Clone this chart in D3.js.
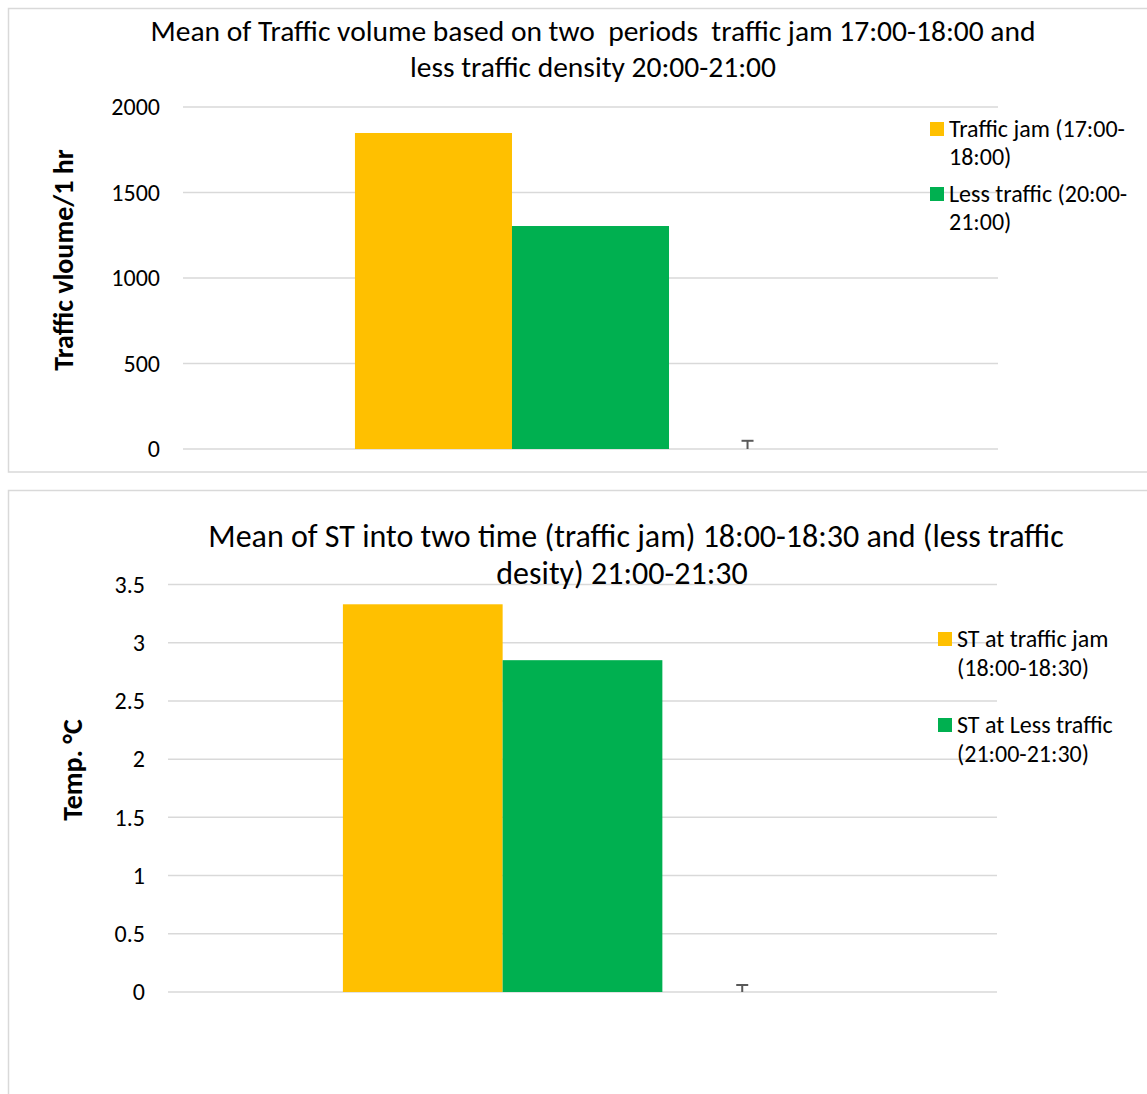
<!DOCTYPE html>
<html>
<head>
<meta charset="utf-8">
<script src="https://cdn.jsdelivr.net/npm/d3@7"></script>
<style>
  html, body { margin: 0; padding: 0; background: #fff; }
  svg { display: block; }
  text { font-family: Carlito, Lato, "Open Sans", sans-serif; fill: #000; }
</style>
</head>
<body>
<svg id="chart" width="1147" height="1094"></svg>
<script>
// ---- Data ----
const categories = ["Mean"];

// Chart 1: traffic volume
const trafficSeries = ["Traffic jam (17:00-18:00)", "Less traffic (20:00-21:00)", "Error"];
const trafficValues = [1848, 1304, 0];
const trafficErrors = [0, 0, 48];
const trafficTicks = [0, 500, 1000, 1500, 2000];
const trafficLegend = [["Traffic jam (17:00-", "18:00)"], ["Less traffic (20:00-", "21:00)"]];
const trafficTitle = ["Mean of Traffic volume based on two  periods  traffic jam 17:00-18:00 and", "less traffic density 20:00-21:00"];
const trafficYTitle = "Traffic vloume/1 hr";

// Chart 2: surface temperature
const stSeries = ["ST at traffic jam (18:00-18:30)", "ST at Less traffic (21:00-21:30)", "Error"];
const stValues = [3.33, 2.85, 0];
const stErrors = [0, 0, 0.06];
const stTicks = [0, 0.5, 1, 1.5, 2, 2.5, 3, 3.5];
const stLegend = [["ST at traffic jam", "(18:00-18:30)"], ["ST at Less traffic", "(21:00-21:30)"]];
const stTitle = ["Mean of ST into two time (traffic jam) 18:00-18:30 and (less traffic", "desity) 21:00-21:30"];
const stYTitle = "Temp. °C";

const seriesColors = ["#FFC000", "#00B050", "none"];

const svg = d3.select("#chart");

function drawChart(cfg) {
  const g = svg.append("g");
  // outer frame
  g.append("rect")
    .attr("x", cfg.frame[0]).attr("y", cfg.frame[1])
    .attr("width", cfg.frame[2]).attr("height", cfg.frame[3])
    .attr("fill", "none").attr("stroke", "#d9d9d9").attr("stroke-width", 1.5);

  const x0 = d3.scaleBand().domain(categories).range([cfg.plot.left, cfg.plot.right]);
  const gapRatio = 2.19;
  const bw = x0.bandwidth();
  const barW = bw / (cfg.series.length + gapRatio);
  const x1 = d3.scaleBand().domain(cfg.series)
    .range([0, barW * cfg.series.length]);
  const offset = (bw - barW * cfg.series.length) / 2;

  const y = d3.scaleLinear().domain([0, cfg.max]).range([cfg.plot.bottom, cfg.plot.top]);

  // gridlines
  g.append("g").selectAll("line").data(cfg.ticks).join("line")
    .attr("x1", cfg.plot.left).attr("x2", cfg.plot.right)
    .attr("y1", d => y(d)).attr("y2", d => y(d))
    .attr("stroke", "#d9d9d9").attr("stroke-width", 1.5);

  // y axis labels
  const yAxis = d3.axisLeft(y).tickValues(cfg.ticks).tickSize(0).tickPadding(0)
    .tickFormat(d => String(d));
  const ax = g.append("g").attr("transform", `translate(${cfg.plot.left - 23},0)`).call(yAxis);
  ax.select(".domain").remove();
  ax.selectAll("text").attr("font-size", 24).attr("fill", "#000")
    .style("font-family", "Carlito, Lato, 'Open Sans', sans-serif");

  // bars
  const rows = cfg.series.map((s, i) => ({ s, v: cfg.values[i], e: cfg.errors[i], c: seriesColors[i] }));
  categories.forEach(cat => {
    const cg = g.append("g").attr("transform", `translate(${x0(cat) + offset},0)`);
    cg.selectAll("rect").data(rows.filter(r => r.c !== "none")).join("rect")
      .attr("x", d => x1(d.s)).attr("width", x1.bandwidth())
      .attr("y", d => y(d.v)).attr("height", d => y(0) - y(d.v))
      .attr("fill", d => d.c);
    // error bars
    const eb = cg.selectAll("g.err").data(rows.filter(r => r.e > 0)).join("g").attr("class", "err");
    eb.append("line")
      .attr("x1", d => x1(d.s) + x1.bandwidth() / 2).attr("x2", d => x1(d.s) + x1.bandwidth() / 2)
      .attr("y1", d => y(d.v)).attr("y2", d => y(d.v + d.e))
      .attr("stroke", "#595959").attr("stroke-width", 2);
    eb.append("line")
      .attr("x1", d => x1(d.s) + x1.bandwidth() / 2 - 6).attr("x2", d => x1(d.s) + x1.bandwidth() / 2 + 6)
      .attr("y1", d => y(d.v + d.e)).attr("y2", d => y(d.v + d.e))
      .attr("stroke", "#595959").attr("stroke-width", 2);
  });

  // title
  const t = g.append("text").attr("font-size", cfg.titleSize).attr("text-anchor", "middle")
    .style("white-space", "pre");
  cfg.title.forEach((line, i) => {
    t.append("tspan").attr("x", cfg.titleX[i]).attr("y", cfg.titleY[i]).text(line);
  });

  // y axis title
  g.append("text")
    .attr("transform", `translate(${cfg.yTitlePos[0]},${cfg.yTitlePos[1]}) rotate(-90)`)
    .attr("text-anchor", "middle").attr("font-size", 28).attr("font-weight", "bold")
    .text(cfg.yTitle);

  // legend
  const lg = g.append("g");
  cfg.legend.forEach((lines, i) => {
    const [lx, ly] = cfg.legendPos[i];
    lg.append("rect").attr("x", lx).attr("y", ly - 15).attr("width", 14).attr("height", 14)
      .attr("fill", seriesColors[i]);
    lines.forEach((ln, j) => {
      lg.append("text").attr("font-size", 24)
        .attr("x", lx + cfg.legendTextDx).attr("y", ly + j * cfg.legendLineH).text(ln);
    });
  });
}

drawChart({
  frame: [8.5, 8.5, 1160, 463.5],
  plot: { left: 183, right: 998, top: 107, bottom: 449 },
  max: 2000,
  ticks: trafficTicks,
  series: trafficSeries, values: trafficValues, errors: trafficErrors,
  title: trafficTitle, titleSize: 29.5, titleX: [593, 593], titleY: [41, 77],
  yTitle: trafficYTitle, yTitlePos: [73, 260],
  legend: trafficLegend, legendPos: [[930, 137], [930, 202]], legendTextDx: 19, legendLineH: 28
});

drawChart({
  frame: [8.5, 490.5, 1160, 700],
  plot: { left: 168, right: 997, top: 584.5, bottom: 992 },
  max: 3.5,
  ticks: stTicks,
  series: stSeries, values: stValues, errors: stErrors,
  title: stTitle, titleSize: 32, titleX: [636, 622], titleY: [547, 584],
  yTitle: stYTitle, yTitlePos: [82, 770],
  legend: stLegend, legendPos: [[938, 647], [938, 733]], legendTextDx: 19, legendLineH: 29
});
</script>
</body>
</html>
